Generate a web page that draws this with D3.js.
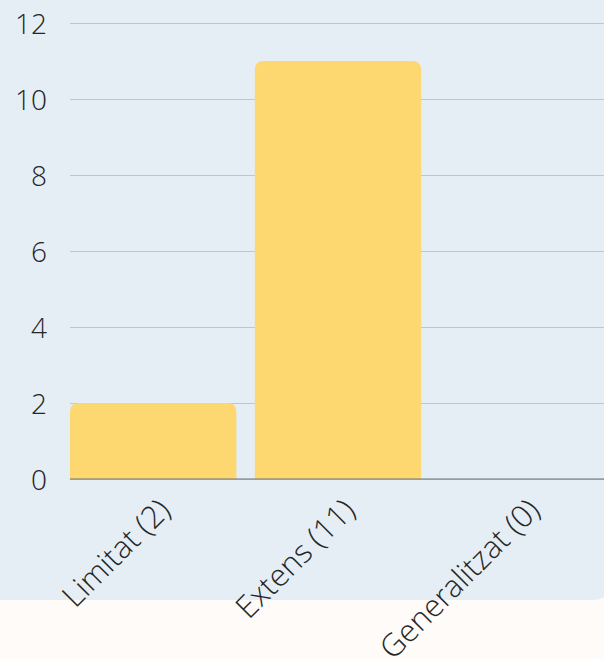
<!DOCTYPE html>
<html>
<head>
<meta charset="utf-8">
<script src="https://cdn.jsdelivr.net/npm/d3@7"></script>
<style>
  body { margin: 0; background: #fefbf8; }
  svg { display: block; }
  .axis text { font-family: "Open Sans Light", "Open Sans", sans-serif; font-weight: 300; fill: #262626; }
  .axis.y text { font-size: 28px; }
  .axis.x text { font-size: 31px; }
</style>
</head>
<body>
<svg id="chart" width="604" height="659"></svg>
<script>
var categories = ["Limitat (2)", "Extens (11)", "Generalitzat (0)"];
var values = [2, 11, 0];
var yTicks = [0, 2, 4, 6, 8, 10, 12];

var svg = d3.select("#chart"),
    margin = {top: 23, right: -2, bottom: 180, left: 70},
    width = +svg.attr("width") - margin.left - margin.right,
    height = +svg.attr("height") - margin.top - margin.bottom;

// panel background, rounded bottom-right corner runs off the edge
svg.append("rect")
    .attr("x", -40).attr("y", -40)
    .attr("width", 662).attr("height", 640)
    .attr("rx", 30)
    .attr("fill", "#e5eef5");

var x = d3.scaleBand().domain(categories).range([0, width]).paddingInner(0.1).paddingOuter(0);
var y = d3.scaleLinear().domain([0, 12]).range([height, 0]);

var g = svg.append("g")
    .attr("transform", "translate(" + margin.left + "," + margin.top + ")");

// gridlines
g.append("g")
    .attr("class", "grid")
    .call(d3.axisLeft(y).tickValues(yTicks).tickSize(-width - 10).tickFormat(""))
    .call(function(s) {
        s.select(".domain").remove();
        s.selectAll("line").attr("stroke", "#bfc6cc").attr("stroke-width", 1);
    });

// bars, top corners rounded
var r = 9;
g.selectAll(".bar")
    .data(values)
    .enter().append("path")
    .attr("class", "bar")
    .attr("fill", "#fdd76f")
    .attr("d", function(d, i) {
        var x0 = x(categories[i]), w = x.bandwidth(), y0 = y(d), y1 = y(0);
        if (y1 - y0 <= 0) return "";
        var rr = Math.min(r, y1 - y0);
        return "M" + x0 + "," + y1 +
            "V" + (y0 + rr) +
            "Q" + x0 + "," + y0 + " " + (x0 + rr) + "," + y0 +
            "H" + (x0 + w - rr) +
            "Q" + (x0 + w) + "," + y0 + " " + (x0 + w) + "," + (y0 + rr) +
            "V" + y1 + "Z";
    });

// baseline
g.append("line")
    .attr("x1", 0).attr("x2", width + 10)
    .attr("y1", y(0)).attr("y2", y(0))
    .attr("stroke", "#6f7478").attr("stroke-width", 1);

// y axis labels
g.append("g")
    .attr("class", "axis y")
    .call(d3.axisLeft(y).tickValues(yTicks).tickSize(0).tickPadding(23))
    .call(function(s) {
        s.select(".domain").remove();
        s.selectAll("text").attr("dy", "0.36em");
    });

// x axis labels, rotated
g.append("g")
    .attr("class", "axis x")
    .attr("transform", "translate(0," + height + ")")
    .call(d3.axisBottom(x).tickSize(0))
    .call(function(s) {
        s.select(".domain").remove();
        s.selectAll("text")
            .attr("text-anchor", "end")
            .attr("x", 0).attr("y", 0).attr("dy", 0)
            .attr("transform", "translate(19,33) rotate(-45)");
    });
</script>
</body>
</html>
